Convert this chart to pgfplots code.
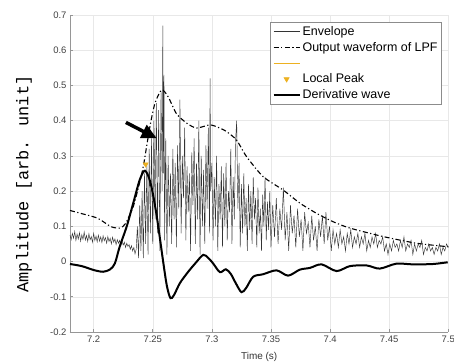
\documentclass[border=0pt]{standalone}
\usepackage{pgfplots}
\pgfplotsset{compat=1.18}
\usepackage{fontspec}
\setmainfont{Liberation Sans}
\newfontfamily\monofont{Liberation Mono}
\usetikzlibrary{arrows.meta}
\definecolor{orangec}{RGB}{237,177,32}
\definecolor{axgray}{RGB}{150,150,150}
\begin{document}
\begin{tikzpicture}
\begin{axis}[
  name=ax,
  scale only axis,
  width=378.3bp, height=317bp,
  xmin=7.18, xmax=7.5, ymin=-0.2, ymax=0.7,
  xtick={7.2,7.25,7.3,7.35,7.4,7.45,7.5},
  ytick={-0.2,-0.1,0,0.1,0.2,0.3,0.4,0.5,0.6,0.7},
  xticklabels={7.2,7.25,7.3,7.35,7.4,7.45,7.5},
  yticklabels={-0.2,-0.1,0,0.1,0.2,0.3,0.4,0.5,0.6,0.7},
  axis x line*=bottom, axis y line*=left,
  axis line style={axgray, line width=0.8bp, -},
  tick align=inside, major tick length=3bp,
  tick style={axgray, line width=0.6bp},
  grid=major, grid style={black!9, line width=0.5bp},
  ticklabel style={font=\fontsize{9.5}{10}\selectfont, color=black!75},
  xlabel={Time (s)},
  xlabel style={at={(axis description cs:0.5,0)}, anchor=center, yshift=-24.7bp, font=\fontsize{10}{11}\selectfont, color=black!80},
  ylabel={Amplitude [arb. unit]},
  ylabel style={at={(axis description cs:-0.1216,0.467)}, anchor=center, font=\monofont\fontsize{17}{18}\selectfont},
  legend image code/.code={\draw[mark repeat=2,mark phase=2,#1] plot coordinates {(0bp,0bp) (13bp,0bp) (26bp,0bp)};},
  legend style={at={(rel axis cs:0.983,0.978)}, anchor=north east, draw=black!45, line width=0.6bp,
    font=\fontsize{12.5}{13}\selectfont, inner sep=2bp, row sep=1.5bp, cells={anchor=west}},
  legend cell align=left,
  clip=true,
]
% Envelope
\addplot[color=black!80, line width=0.45bp] table {
7.180 0.075
7.181 0.062
7.182 0.080
7.183 0.066
7.184 0.085
7.185 0.060
7.186 0.078
7.187 0.064
7.188 0.082
7.189 0.058
7.190 0.076
7.191 0.063
7.192 0.084
7.193 0.061
7.194 0.074
7.195 0.057
7.196 0.079
7.197 0.062
7.198 0.071
7.199 0.055
7.200 0.080
7.201 0.060
7.202 0.072
7.203 0.056
7.204 0.075
7.205 0.058
7.206 0.070
7.207 0.054
7.208 0.073
7.209 0.059
7.210 0.068
7.211 0.052
7.212 0.071
7.213 0.057
7.214 0.066
7.215 0.050
7.216 0.069
7.217 0.055
7.218 0.064
7.219 0.048
7.220 0.062
7.221 0.052
7.222 0.060
7.223 0.045
7.224 0.058
7.225 0.047
7.226 0.055
7.227 0.040
7.228 0.052
7.229 0.043
7.230 0.048
7.231 0.035
7.232 0.045
7.233 0.030
7.234 0.040
7.235 0.022
7.236 0.035
7.237 0.10
7.238 0.01
7.239 0.16
7.240 0.03
7.241 0.20
7.242 0.01
7.243 0.25
7.244 0.05
7.245 0.28
7.246 0.02
7.247 0.32
7.248 0.08
7.249 0.35
7.250 0.05
7.251 0.40
7.252 0.12
7.253 0.45
7.254 0.08
7.255 0.43
7.256 0.03
7.257 0.48
7.258 0.20
7.2585 0.67
7.259 0.25
7.2595 0.53
7.260 0.06
7.261 0.35
7.262 0.02
7.263 0.30
7.264 0.10
7.265 0.25
7.266 0.05
7.267 0.32
7.268 0.12
7.269 0.28
7.270 0.04
7.271 0.33
7.272 0.15
7.273 0.46
7.274 0.08
7.275 0.30
7.276 0.18
7.277 0.38
7.278 0.06
7.279 0.27
7.280 0.14
7.281 0.25
7.282 0.03
7.283 0.31
7.284 0.16
7.285 0.35
7.286 0.05
7.287 0.28
7.288 0.12
7.289 0.40
7.290 0.02
7.291 0.30
7.292 0.10
7.293 0.26
7.294 0.05
7.295 0.33
7.296 0.15
7.297 0.38
7.298 0.08
7.2985 0.52
7.299 0.20
7.300 0.28
7.301 0.06
7.302 0.24
7.303 0.10
7.304 0.30
7.305 0.03
7.306 0.22
7.307 0.12
7.308 0.27
7.309 0.04
7.310 0.25
7.311 0.10
7.312 0.28
7.313 0.06
7.314 0.20
7.315 0.14
7.316 0.32
7.317 0.05
7.318 0.24
7.319 0.12
7.320 0.34
7.321 0.40
7.322 0.15
7.323 0.28
7.324 0.04
7.325 0.22
7.326 0.08
7.327 0.25
7.328 0.10
7.329 0.18
7.330 0.03
7.331 0.22
7.332 0.09
7.333 0.20
7.334 0.05
7.335 0.24
7.336 0.12
7.337 0.18
7.338 0.04
7.339 0.21
7.340 0.08
7.341 0.15
7.342 0.03
7.343 0.19
7.344 0.10
7.345 0.24
7.346 0.06
7.347 0.17
7.348 0.09
7.349 0.20
7.350 0.04
7.3515 0.16
7.353 0.07
7.3545 0.18
7.356 0.05
7.3575 0.15
7.359 0.09
7.3605 0.21
7.362 0.06
7.3635 0.14
7.365 0.03
7.3665 0.16
7.368 0.08
7.3695 0.13
7.371 0.04
7.3725 0.15
7.374 0.07
7.3755 0.12
7.377 0.03
7.3785 0.14
7.380 0.08
7.3815 0.11
7.383 0.04
7.3845 0.13
7.386 0.06
7.3875 0.10
7.389 0.03
7.3905 0.12
7.392 0.07
7.3935 0.13
7.395 0.05
7.3965 0.14
7.398 0.06
7.3995 0.10
7.401 0.03
7.4025 0.09
7.404 0.05
7.4055 0.08
7.407 0.04
7.4085 0.09
7.410 0.05
7.4115 0.07
7.413 0.03
7.4145 0.08
7.416 0.05
7.4175 0.09
7.419 0.04
7.4205 0.07
7.422 0.05
7.4235 0.08
7.425 0.04
7.4265 0.07
7.428 0.05
7.4295 0.08
7.431 0.03
7.4325 0.06
7.434 0.04
7.4355 0.07
7.437 0.05
7.4385 0.08
7.440 0.04
7.4415 0.06
7.443 0.05
7.4445 0.07
7.446 0.03
7.4475 0.05
7.449 0.02
7.4505 0.05
7.452 0.03
7.4535 0.06
7.455 0.04
7.4565 0.05
7.458 0.03
7.4595 0.06
7.461 0.04
7.4625 0.07
7.464 0.03
7.4655 0.05
7.467 0.04
7.4685 0.06
7.470 0.02
7.4715 0.05
7.473 0.03
7.4745 0.05
7.476 0.04
7.4775 0.06
7.479 0.02
7.4805 0.04
7.482 0.03
7.4835 0.05
7.485 0.03
7.4865 0.04
7.488 0.02
7.4895 0.04
7.491 0.03
7.4925 0.05
7.494 0.02
7.4955 0.04
7.497 0.03
7.4985 0.05
7.500 0.04
};
\addlegendentry{Envelope}
% LPF output
\addplot[black, line width=1.1bp, dash pattern=on 5bp off 2.5bp on 1.2bp off 2.5bp, smooth, tension=0.4] table {
7.18 0.145
7.19 0.136
7.2034 0.123
7.2147 0.099
7.2223 0.095
7.227 0.108
7.2335 0.156
7.238 0.212
7.242 0.270
7.2476 0.383
7.2519 0.450
7.2576 0.4875
7.263 0.468
7.270 0.420
7.2787 0.393
7.287 0.379
7.2983 0.388
7.306 0.380
7.3124 0.369
7.3209 0.345
7.3293 0.298
7.3434 0.241
7.3603 0.203
7.3744 0.166
7.3885 0.137
7.4026 0.113
7.4167 0.095
7.4448 0.071
7.4731 0.052
7.5 0.042
};
\addlegendentry{Output waveform of LPF}
\addlegendimage{legend image code/.code={\draw[draw=orangec, line width=0.9bp] (0bp,0bp) -- (26bp,0bp);}}
\addlegendentry{\phantom{Lg}}
% Local peak
\addplot[only marks, mark=triangle*, mark size=3bp, color=orangec, mark options={rotate=180, fill=orangec, draw=orangec}] table {
7.244 0.276
};
\addlegendentry{Local Peak}
% Derivative wave
\addplot[black, line width=2bp, smooth, tension=0.5] table {
7.18 -0.007
7.19 -0.013
7.20 -0.024
7.208 -0.029
7.214 -0.022
7.218 -0.005
7.222 0.042
7.228 0.100
7.2335 0.166
7.239 0.232
7.2434 0.258
7.248 0.225
7.253 0.137
7.259 -0.005
7.262 -0.070
7.265 -0.104
7.268 -0.095
7.273 -0.061
7.280 -0.029
7.286 -0.005
7.2927 0.019
7.297 0.010
7.301 -0.005
7.3068 -0.030
7.3118 -0.022
7.316 -0.035
7.320 -0.060
7.325 -0.087
7.329 -0.075
7.335 -0.043
7.3434 -0.036
7.3547 -0.025
7.3645 -0.040
7.3744 -0.023
7.383 -0.018
7.3928 -0.008
7.4054 -0.027
7.4167 -0.013
7.4308 -0.011
7.442 -0.020
7.456 -0.006
7.470 -0.008
7.487 -0.007
7.4995 -0.002
};
\addlegendentry{Derivative wave}
\draw[-{Triangle[length=15bp,width=14bp]}, line width=3.5bp] (axis cs:7.2273,0.395) -- (axis cs:7.2533,0.350);
\end{axis}
\pgfresetboundingbox
\path[use as bounding box] ([xshift=-70bp,yshift=-30bp]ax.south west) rectangle ([xshift=5.7bp,yshift=15bp]ax.north east);
\end{tikzpicture}
\end{document}
